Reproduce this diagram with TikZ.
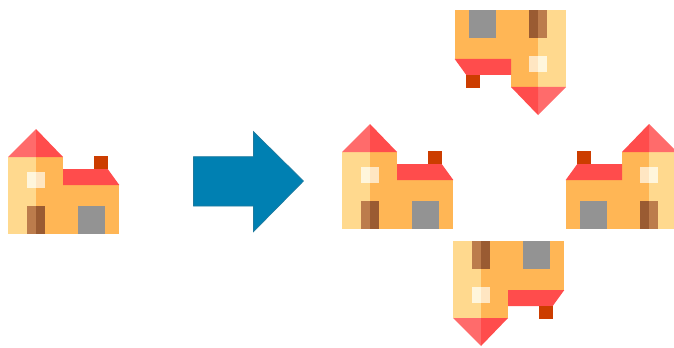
\documentclass[tikz,border=0pt]{standalone}
\definecolor{towerL}{HTML}{FFD98E}
\definecolor{bodyR}{HTML}{FFB655}
\definecolor{roofL}{HTML}{FF6B6B}
\definecolor{roofR}{HTML}{FF4C4C}
\definecolor{chim}{HTML}{CC3D00}
\definecolor{winL}{HTML}{FFF6DC}
\definecolor{winR}{HTML}{FFE6C2}
\definecolor{doorL}{HTML}{BC7C4C}
\definecolor{doorR}{HTML}{9A5B32}
\definecolor{garage}{HTML}{939393}
\definecolor{arrowfill}{HTML}{0080B2}
\definecolor{arrowedge}{HTML}{1F7A9E}
\tikzset{
  house/.pic={
    \fill[towerL] (0,0) rectangle (28,77);
    \fill[bodyR] (28,0) rectangle (55,77);
    \fill[bodyR] (55,0) rectangle (111.3,49);
    \fill[roofL] (0,77) -- (28,105) -- (28,77) -- cycle;
    \fill[roofR] (28,77) -- (28,105) -- (55,77) -- cycle;
    \fill[roofR] (55,49) -- (55,65) -- (99.7,65) -- (111.3,49) -- cycle;
    \fill[chim] (85.7,65) rectangle (99.7,78.3);
    \fill[winL] (19,46) rectangle (28,62.3);
    \fill[winR] (28,46) rectangle (37,62.3);
    \fill[doorL] (19,0) rectangle (28,28);
    \fill[doorR] (28,0) rectangle (37,28);
    \fill[garage] (70,0) rectangle (97,28);
  }
}
\begin{document}
\begin{tikzpicture}[x=0.75pt,y=0.75pt]
\useasboundingbox (0,0) rectangle (674,347);
\clip (0,0) rectangle (674,347);
\fill[white] (0,0) rectangle (674,347);
% image y = 347 - y
\pic at (8,113) {house};
\pic at (342,118) {house};
\pic[xscale=-1] at (677,118) {house};
\pic[xscale=-1,yscale=-1] at (566,337) {house};
\pic[yscale=-1] at (453,106) {house};
\draw[fill=arrowfill,draw=arrowedge,line width=0.5pt,line join=miter]
  (193.5,190.3) -- (253.5,190.3) -- (253.5,215.3) -- (303.5,166) -- (253.5,115.3) -- (253.5,141) -- (193.5,141) -- cycle;
\end{tikzpicture}
\end{document}
